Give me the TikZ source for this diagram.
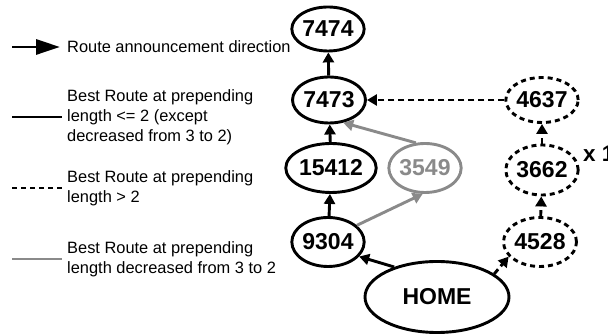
\documentclass[tikz,border=0pt]{standalone}
\usepackage{fontspec}
\setmainfont{Liberation Sans}
\usetikzlibrary{arrows.meta,shapes.geometric}
\definecolor{midgray}{HTML}{8A8A8A}
\tikzset{
  asnode/.style={ellipse, draw, line width=2.9pt, inner sep=0pt,
    minimum width=71pt, minimum height=47pt,
    font=\fontsize{23}{24}\selectfont\bfseries},
  dashnode/.style={asnode, dash pattern=on 5pt off 4pt},
  graynode/.style={asnode, draw=midgray, text=midgray},
  link/.style={line width=2.9pt, -{Triangle[length=10pt,width=11pt]}},
  dashlink/.style={link, dash pattern=on 6pt off 4pt},
  graylink/.style={link, draw=midgray, -{Triangle[length=10pt,width=11pt,fill=midgray]}, color=midgray},
  legendtext/.style={anchor=west, align=left, inner sep=0pt,
    font=\fontsize{16.4}{20}\selectfont},
  legendline/.style={line width=2.9pt}
}
\begin{document}
\begin{tikzpicture}[x=1pt,y=-1pt]
\clip (0,0) rectangle (608,336);
\useasboundingbox (0,0) rectangle (608,336);

% AS nodes
\node[asnode, minimum height=44pt, minimum width=72pt] (n7474) at (328,29) {7474};
\node[asnode, minimum height=46pt, minimum width=73pt] (n7473) at (329,100) {7473};
\node[asnode, minimum height=49pt, minimum width=70pt] (n15412) at (331,168) {15412};
\node[graynode, minimum height=49pt, minimum width=72pt] (n3549) at (425,168) {3549};
\node[asnode, minimum height=49pt, minimum width=70pt] (n9304) at (328,242) {9304};
\node[asnode, minimum height=71pt, minimum width=144pt] (home) at (437,297) {HOME};
\node[dashnode, minimum height=45pt, minimum width=70pt] (n4637) at (542,100) {4637};
\node[dashnode, minimum height=50pt, minimum width=71pt] (n3662) at (542,170) {3662};
\node[dashnode, minimum height=49pt, minimum width=73pt] (n4528) at (540,242) {4528};
\node[anchor=base west, inner sep=0pt, font=\fontsize{22.5}{24}\selectfont\bfseries] (mult) at (583,162) {x 1};

% announcement paths
\draw[link] (n7473) -- (n7474);
\draw[link] (n15412) -- (n7473);
\draw[link] (n9304) -- (n15412);
\draw[link] (home.145) -- (n9304.-25);
\draw[graylink] (n9304.30) -- (n3549.-95);
\draw[graylink] (n3549.110) -- (n7473.-58);
\draw[dashlink] (home.22) -- (n4528.205);
\draw[dashlink] (n4528) -- (n3662);
\draw[dashlink] (n3662) -- (n4637);
\draw[dashlink] (n4637) -- (n7473);

% legend
\coordinate (la1) at (12,47);  \coordinate (la2) at (60,47);
\draw[line width=2.9pt, -{Triangle[length=24pt,width=15pt]}] (la1) -- (la2);
\node[legendtext] (lt1) at (67,47) {Route announcement direction};

\coordinate (lb1) at (12,117); \coordinate (lb2) at (62,117);
\draw[legendline] (lb1) -- (lb2);
\node[legendtext] (lt2) at (67,117) {Best Route at prepending\\length <= 2 (except\\decreased from 3 to 2)};

\coordinate (lc1) at (12,188); \coordinate (lc2) at (62,188);
\draw[legendline, dash pattern=on 5pt off 4pt] (lc1) -- (lc2);
\node[legendtext] (lt3) at (67,188) {Best Route at prepending\\length > 2};

\coordinate (ld1) at (12,259); \coordinate (ld2) at (62,259);
\draw[legendline, midgray] (ld1) -- (ld2);
\node[legendtext] (lt4) at (67,259) {Best Route at prepending\\length decreased from 3 to 2};
\end{tikzpicture}
\end{document}
